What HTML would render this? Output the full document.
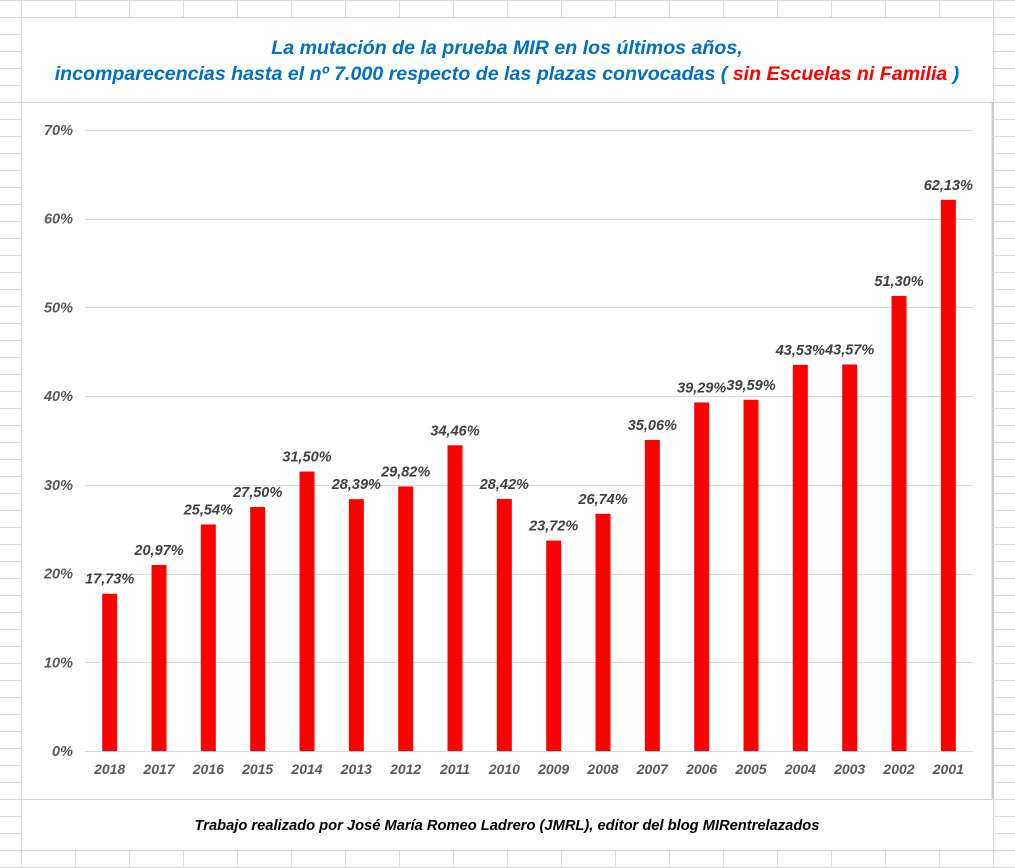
<!DOCTYPE html>
<html><head><meta charset="utf-8"><style>
html,body{margin:0;padding:0;background:#fff;}
svg{display:block;font-family:"Liberation Sans",Arial,sans-serif;}
</style></head><body>
<svg id="c" width="1015" height="868" viewBox="0 0 1015 868">
<g id="sheetgrid"></g>
<rect x="21.5" y="17.5" width="972" height="833" fill="#fff" stroke="#d4d4d4"/>
<line x1="21" y1="102.5" x2="993" y2="102.5" stroke="#d4d4d4"/>
<line x1="21" y1="799.5" x2="993" y2="799.5" stroke="#d4d4d4"/>
<line x1="992.5" y1="102" x2="992.5" y2="799" stroke="#c8c8c8" stroke-width="2"/>
<g font-weight="bold" font-style="italic" font-size="19.6" text-anchor="middle" fill="#0070C0">
<text x="507" y="54">La mutación de la prueba MIR en los últimos años,</text>
<text x="507" y="80">incomparecencias hasta el nº 7.000 respecto de las plazas convocadas ( <tspan fill="#ff0000">sin Escuelas ni Familia</tspan> )</text>
</g>
<g id="grid"></g>
<g id="bars"></g>
<text x="507" y="830" text-anchor="middle" font-size="14.7" font-weight="bold" font-style="italic" fill="#000">Trabajo realizado por José María Romeo Ladrero (JMRL), editor del blog MIRentrelazados</text>
</svg>
<script>
const categories=["2018","2017","2016","2015","2014","2013","2012","2011","2010","2009","2008","2007","2006","2005","2004","2003","2002","2001"];
const values=[17.73,20.97,25.54,27.50,31.50,28.39,29.82,34.46,28.42,23.72,26.74,35.06,39.29,39.59,43.53,43.57,51.30,62.13];
const valueLabels=["17,73%","20,97%","25,54%","27,50%","31,50%","28,39%","29,82%","34,46%","28,42%","23,72%","26,74%","35,06%","39,29%","39,59%","43,53%","43,57%","51,30%","62,13%"];
const yTicks=[0,10,20,30,40,50,60,70];
const yTickLabels=["0%","10%","20%","30%","40%","50%","60%","70%"];

const NS="http://www.w3.org/2000/svg";
const X0=85,X1=973,Y0=751,Y1=130,YMAX=70;
const y=v=>Y0-(v/YMAX)*(Y0-Y1);
const bw=(X1-X0)/categories.length;
const xc=i=>X0+bw*(i+0.5);
function mk(tag,attrs,parent){const e=document.createElementNS(NS,tag);for(const k in attrs)e.setAttribute(k,attrs[k]);parent.appendChild(e);return e;}

const sg=document.getElementById('sheetgrid');
for(let x=21;x<1015;x+=54){const l=mk('line',{x1:x+0.5,y1:0,x2:x+0.5,y2:868,stroke:'#d9d9d9'},sg);

}
for(let yy=0;yy<868;yy+=17){const l=mk('line',{x1:0,y1:yy+0.5,x2:1015,y2:yy+0.5,stroke:'#d9d9d9'},sg);

}

const g=document.getElementById('grid');
yTicks.forEach((t,i)=>{
 const l=mk('line',{x1:X0,x2:X1,y1:Math.round(y(t))+0.5,y2:Math.round(y(t))+0.5,stroke:'#d9d9d9'},g);
 
 
 const tx=mk('text',{x:73,y:y(t)+5,'text-anchor':'end','font-size':'14.5','font-weight':'bold','font-style':'italic',fill:'#595959'},g);
 tx.textContent=yTickLabels[i];
 
 
});
const b=document.getElementById('bars');
values.forEach((v,i)=>{
 const r=mk('rect',{x:xc(i)-7.5,y:y(v),width:15,height:Y0-y(v),fill:'#ff0000'},b);
 
 
 const t=mk('text',{x:xc(i),y:y(v)-10,'text-anchor':'middle','font-size':'14.5','font-weight':'bold','font-style':'italic',fill:'#404040'},b);
 t.textContent=valueLabels[i];
 
 
 const c=mk('text',{x:xc(i),y:774,'text-anchor':'middle','font-size':'14','font-weight':'bold','font-style':'italic',fill:'#595959'},b);
 c.textContent=categories[i];
 
 
});
</script>
</body></html>
